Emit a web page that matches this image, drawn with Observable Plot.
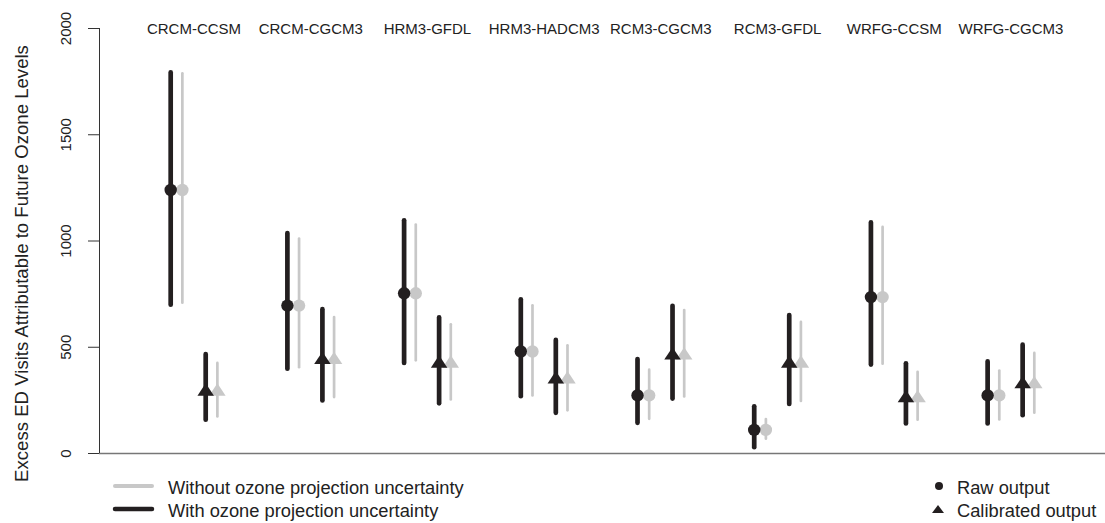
<!DOCTYPE html>
<html><head><meta charset="utf-8">
<script src="https://cdn.jsdelivr.net/npm/d3@7"></script>
<script src="https://cdn.jsdelivr.net/npm/@observablehq/plot@0.6"></script>
<style>
body{margin:0;background:#fff;font-family:"Liberation Sans",Arial,sans-serif;}
#wrap{position:relative;width:1105px;height:523px;overflow:hidden;}
#legend{position:absolute;left:0;top:460px;}
</style></head><body><div id="wrap"></div>
<script>
// ---- data ----
const models = ["CRCM-CCSM","CRCM-CGCM3","HRM3-GFDL","HRM3-HADCM3","RCM3-CGCM3","RCM3-GFDL","WRFG-CCSM","WRFG-CGCM3"];
// Raw output: central estimate and intervals
const rawEst        = [1240, 696, 754, 480, 273, 111, 736, 273];
const rawLoWith     = [698, 397, 424, 267, 142, 27, 416, 139];
const rawHiWith     = [1791, 1035, 1095, 723, 442, 220, 1085, 431];
const rawLoWithout  = [707, 404, 436, 271, 161, 67, 420, 158];
const rawHiWithout  = [1787, 1009, 1075, 695, 392, 160, 1064, 388];
// Calibrated output
const calEst        = [301, 450, 433, 359, 471, 433, 270, 336];
const calLoWith     = [157, 247, 234, 189, 256, 231, 139, 178];
const calHiWith     = [466, 677, 638, 532, 693, 649, 422, 510];
const calLoWithout  = [172, 263, 252, 201, 266, 245, 157, 190];
const calHiWithout  = [424, 640, 606, 507, 673, 617, 382, 471];
const yTicks = [0, 500, 1000, 1500, 2000];
const yTitle = "Excess ED Visits Attributable to Future Ozone Levels";
const legendLines = ["Without ozone projection uncertainty", "With ozone projection uncertainty"];
const legendSymbols = ["Raw output", "Calibrated output"];

// ---- build table ----
const offsets = {raw: {With: -0.2, Without: -0.1}, cal: {With: 0.1, Without: 0.2}};
const rows = [];
models.forEach((m, i) => {
  rows.push({model: m, type: "raw", unc: "Without", x: i + 1 + offsets.raw.Without, est: rawEst[i], lo: rawLoWithout[i], hi: rawHiWithout[i]});
  rows.push({model: m, type: "cal", unc: "Without", x: i + 1 + offsets.cal.Without, est: calEst[i], lo: calLoWithout[i], hi: calHiWithout[i]});
  rows.push({model: m, type: "raw", unc: "With", x: i + 1 + offsets.raw.With, est: rawEst[i], lo: rawLoWith[i], hi: rawHiWith[i]});
  rows.push({model: m, type: "cal", unc: "With", x: i + 1 + offsets.cal.With, est: calEst[i], lo: calLoWith[i], hi: calHiWith[i]});
});
const grey = "#c8c8c8", black = "#231f20";
const greyRows = rows.filter(d => d.unc === "Without");
const blackRows = rows.filter(d => d.unc === "With");

const tri = {draw(ctx, size) {
  const r = Math.sqrt(size / Math.PI);
  const w = r * 1.33, h = r * 1.0;
  ctx.moveTo(0, -h); ctx.lineTo(w, h); ctx.lineTo(-w, h); ctx.closePath();
}};

const xDomain = [0.19, 8.81];
const chart = Plot.plot({
  width: 1105, height: 523,
  marginLeft: 99, marginRight: 0, marginTop: 28, marginBottom: 70,
  x: {domain: xDomain, axis: null},
  y: {domain: [0, 2000], axis: null},
  style: {fontFamily: '"Liberation Sans", Arial, sans-serif', color: "#222", background: "#fff", overflow: "visible"},
  marks: [
    Plot.ruleY([0], {stroke: "#777", strokeWidth: 1.5}),
    Plot.ruleX([xDomain[0]], {y1: 0, y2: 2000, stroke: "#333", strokeWidth: 1}),
    Plot.axisY({ticks: yTicks, tickSize: 11, tickRotate: -90, tickPadding: 18, fontSize: 15, tickFormat: "d", label: null, stroke: "#333", fill: "#222"}),
    Plot.text([yTitle], {frameAnchor: "left", textAnchor: "middle", dx: -77, dy: 22.5, rotate: -90, fontSize: 18.6, fill: "#222"}),
    Plot.text(models, {x: (d, i) => i + 1, y: () => 2000, text: d => d, fontSize: 15, fill: "#222", dy: 1}),
    Plot.ruleX(greyRows, {x: "x", y1: "lo", y2: "hi", stroke: grey, strokeWidth: 2.7, strokeLinecap: "round"}),
    Plot.dot(greyRows.filter(d => d.type === "raw"), {x: "x", y: "est", r: 6.2, fill: grey, symbol: "circle"}),
    Plot.dot(greyRows.filter(d => d.type === "cal"), {x: "x", y: "est", r: 6.2, fill: grey, symbol: tri}),
    Plot.ruleX(blackRows, {x: "x", y1: "lo", y2: "hi", stroke: black, strokeWidth: 4.7, strokeLinecap: "round"}),
    Plot.dot(blackRows.filter(d => d.type === "raw"), {x: "x", y: "est", r: 6.2, fill: black, symbol: "circle"}),
    Plot.dot(blackRows.filter(d => d.type === "cal"), {x: "x", y: "est", r: 6.2, fill: black, symbol: tri})
  ]
});
const wrap = document.getElementById("wrap");
wrap.appendChild(chart);

// ---- legend (below plot area) ----
const lg = d3.select(wrap).append("svg").attr("id", "legend").attr("width", 1105).attr("height", 63)
  .style("font-family", '"Liberation Sans", Arial, sans-serif');
const lineColors = [grey, black], lineW = [4, 4.5];
legendLines.forEach((t, i) => {
  const cy = 26 + i * 23;
  lg.append("line").attr("x1", 115).attr("x2", 152).attr("y1", cy).attr("y2", cy)
    .attr("stroke", lineColors[i]).attr("stroke-width", lineW[i]).attr("stroke-linecap", "round");
  lg.append("text").attr("x", 168).attr("y", cy + 8).attr("font-size", 18.3).attr("fill", "#222").text(t);
});
legendSymbols.forEach((t, i) => {
  const cy = 26 + i * 23;
  if (i === 0) lg.append("circle").attr("cx", 939).attr("cy", cy).attr("r", 4).attr("fill", black);
  else lg.append("path").attr("d", `M938,${cy - 4}L944,${cy + 4}L932,${cy + 4}Z`).attr("fill", black);
  lg.append("text").attr("x", 957).attr("y", cy + 8).attr("font-size", 18.3).attr("fill", "#222").text(t);
});
</script></body></html>
